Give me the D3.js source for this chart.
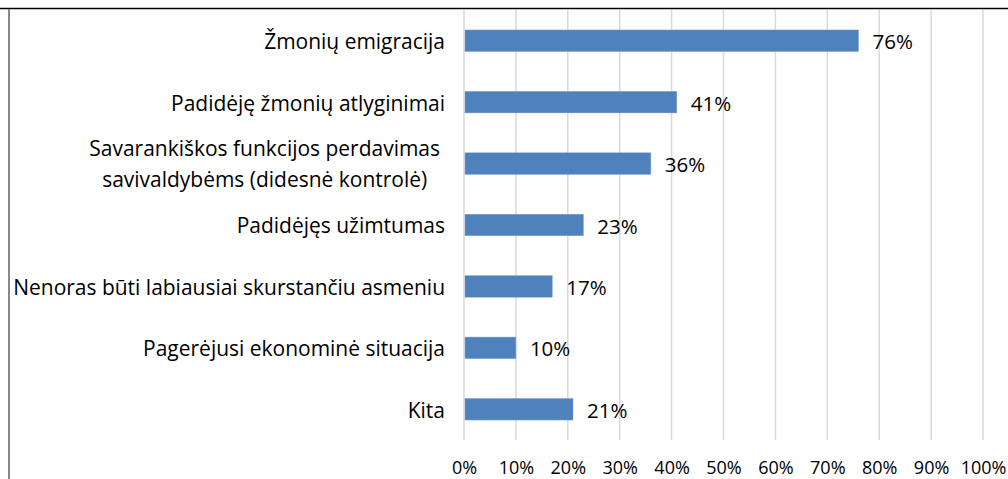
<!DOCTYPE html>
<html><head><meta charset="utf-8">
<script src="https://cdn.jsdelivr.net/npm/d3@7"></script>
<style>
html,body{margin:0;padding:0;background:#fff;}
svg{display:block;}
text{font-family:"Open Sans","Liberation Sans",sans-serif;fill:#000;}
</style></head>
<body>
<svg id="chart" width="1008" height="479"></svg>
<script>
const categories = [
  ["Žmonių emigracija"],
  ["Padidėję žmonių atlyginimai"],
  ["Savarankiškos funkcijos perdavimas", "savivaldybėms (didesnė kontrolė)"],
  ["Padidėjęs užimtumas"],
  ["Nenoras būti labiausiai skurstančiu asmeniu"],
  ["Pagerėjusi ekonominė situacija"],
  ["Kita"]
];
const values = [76, 41, 36, 23, 17, 10, 21];
const tickValues = [0, 10, 20, 30, 40, 50, 60, 70, 80, 90, 100];
const tickLabels = ["0%", "10%", "20%", "30%", "40%", "50%", "60%", "70%", "80%", "90%", "100%"];

const svg = d3.select("#chart");

function measure(str, size) {
  const t = svg.append("text").attr("font-size", size).text(str);
  const w = t.node().getComputedTextLength();
  t.remove();
  return w;
}
const longest = d3.greatest(categories.flat(), s => measure(s, 20));
const fsCat = 20 * 432 / measure(longest, 20);
const fsTick = 18;
const fsVal = 20.5;

const x = d3.scaleLinear().domain([0, 100]).range([464, 983]);
const idx = d3.range(categories.length);
const y = d3.scaleBand().domain(idx).range([10, 440]).paddingInner(0.65).paddingOuter(0.325);

// frame
svg.append("line").attr("x1", 0).attr("x2", 1008).attr("y1", 8.5).attr("y2", 8.5)
  .attr("stroke", "#000").attr("stroke-width", 1.5);
svg.append("line").attr("x1", 9).attr("x2", 9).attr("y1", 9).attr("y2", 479)
  .attr("stroke", "#888").attr("stroke-width", 2);

// gridlines
svg.append("g").selectAll("line").data(tickValues).join("line")
  .attr("x1", d => x(d)).attr("x2", d => x(d))
  .attr("y1", 10).attr("y2", 440)
  .attr("stroke", "#d9d9d9").attr("stroke-width", 1.5);

// x axis labels
const xAxis = d3.axisBottom(x).tickValues(tickValues).tickFormat((d, i) => tickLabels[i]).tickSize(0).tickPadding(0);
const gx = svg.append("g").attr("transform", "translate(0,460)").call(xAxis);
gx.select(".domain").remove();
gx.attr("font-family", null).attr("font-size", null);
gx.selectAll("text").attr("font-size", fsTick).attr("dy", null).attr("y", 13.5);

// bars
svg.append("g").selectAll("rect").data(values).join("rect")
  .attr("x", x(0) + 1).attr("y", (d, i) => y(i))
  .attr("width", d => x(d) - x(0) - 1).attr("height", y.bandwidth())
  .attr("fill", "#4f81bd").attr("stroke", "#7da0cf").attr("stroke-width", 0.5);

// value labels
svg.append("g").selectAll("text").data(values).join("text")
  .attr("x", d => x(d) + 14).attr("y", (d, i) => y(i) + y.bandwidth() / 2)
  .attr("dy", "0.42em").attr("font-size", fsVal).text(d => d + "%");

// category labels
const labelRight = 445;
const lineH = 31;
categories.forEach((lines, i) => {
  const cy = y(i) + y.bandwidth() / 2;
  const g = svg.append("g");
  const t = g.selectAll("text").data(lines).join("text")
    .attr("font-size", fsCat).attr("dy", "0.4em")
    .attr("y", (d, j) => cy + (j - (lines.length - 1) / 2) * lineH)
    .text(d => d);
  if (lines.length === 1) {
    t.attr("x", labelRight).attr("text-anchor", "end");
  } else {
    let maxW = 0;
    t.each(function () { maxW = Math.max(maxW, this.getComputedTextLength()); });
    t.attr("x", labelRight - 5 - maxW / 2).attr("text-anchor", "middle");
  }
});
</script>
</body></html>
